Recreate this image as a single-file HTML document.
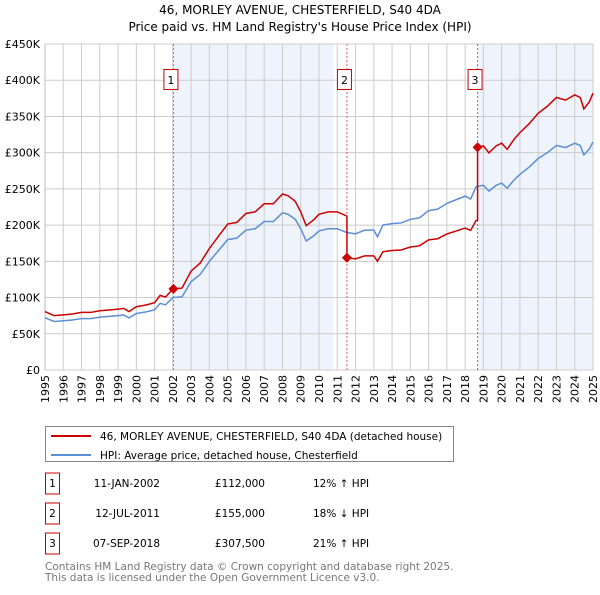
<!DOCTYPE html>
<html><head><meta charset="utf-8"><style>
body{margin:0;background:#fff;font-family:"Liberation Sans","DejaVu Sans",sans-serif;}
svg text{font-family:"DejaVu Sans","Liberation Sans",sans-serif;}
</style></head><body>
<svg id="c" width="600" height="590" xmlns="http://www.w3.org/2000/svg">
<text x="300" y="14" text-anchor="middle" font-size="12" fill="#000">46, MORLEY AVENUE, CHESTERFIELD, S40 4DA</text>
<text x="300" y="31" text-anchor="middle" font-size="12" fill="#000">Price paid vs. HM Land Registry's House Price Index (HPI)</text>
<g id="plot"></g>
<g>
<rect x="45.5" y="426.5" width="408" height="35" fill="#fff" stroke="#888"/>
<line x1="51" y1="436" x2="91" y2="436" stroke="#cc0000" stroke-width="2"/>
<text x="100" y="440" font-size="10.5">46, MORLEY AVENUE, CHESTERFIELD, S40 4DA (detached house)</text>
<line x1="51" y1="455" x2="91" y2="455" stroke="#5b8fd6" stroke-width="2"/>
<text x="100" y="459" font-size="10.5">HPI: Average price, detached house, Chesterfield</text>
</g>
<g id="table" font-size="10.5"></g>
<text x="45" y="570" font-size="10.5" fill="#777">Contains HM Land Registry data © Crown copyright and database right 2025.</text>
<text x="45" y="581" font-size="10.5" fill="#777">This data is licensed under the Open Government Licence v3.0.</text>
</svg>
<script>
const hpiYears=[1995,1995.5,1996,1996.5,1997,1997.5,1998,1998.5,1999,1999.3,1999.6,2000,2000.5,2001,2001.3,2001.6,2002,2002.5,2003,2003.5,2004,2004.5,2005,2005.5,2006,2006.5,2007,2007.5,2008,2008.3,2008.7,2009,2009.3,2009.7,2010,2010.5,2011,2011.5,2012,2012.5,2013,2013.2,2013.5,2014,2014.5,2015,2015.5,2016,2016.5,2017,2017.5,2018,2018.3,2018.6,2019,2019.3,2019.7,2020,2020.3,2020.7,2021,2021.5,2022,2022.5,2023,2023.5,2024,2024.3,2024.5,2024.8,2025];
const hpiValues=[72,67,68,69,71,71,73,74,75,76,72,78,80,83,92,90,100,101,122,132,150,165,180,182,193,195,205,205,217,215,208,195,178,185,192,195,195,190,188,193,193,184,200,202,203,208,210,220,222,230,235,240,236,253,255,247,255,258,251,263,270,280,292,300,310,307,313,310,297,305,315];
const saleYears=[2002.03,2011.53,2018.68];
const salePrices=[112000,155000,307500];
const saleDates=["11-JAN-2002","12-JUL-2011","07-SEP-2018"];
const salePriceLabels=["£112,000","£155,000","£307,500"];
const saleHpiDiff=["12% ↑ HPI","18% ↓ HPI","21% ↑ HPI"];
const yTicks=[0,50000,100000,150000,200000,250000,300000,350000,400000,450000];
const yTickLabels=["£0","£50K","£100K","£150K","£200K","£250K","£300K","£350K","£400K","£450K"];
const xTicks=[1995,1996,1997,1998,1999,2000,2001,2002,2003,2004,2005,2006,2007,2008,2009,2010,2011,2012,2013,2014,2015,2016,2017,2018,2019,2020,2021,2022,2023,2024,2025];

const X0=45,X1=593,Y0=370,Y1=44;
const x=y=>X0+(y-1995)/30*(X1-X0);
const yv=v=>Y0-v/450000*(Y0-Y1);
const NS="http://www.w3.org/2000/svg";
const plot=document.getElementById('plot');
function mk(tag,at,parent){const e=document.createElementNS(NS,tag);for(const k in at)e.setAttribute(k,at[k]);(parent||plot).appendChild(e);return e;}
function hpiAt(t){for(let i=0;i<hpiYears.length-1;i++){if(t<=hpiYears[i+1]){const f=(t-hpiYears[i])/(hpiYears[i+1]-hpiYears[i]);return (hpiValues[i]+f*(hpiValues[i+1]-hpiValues[i]))*1000;}}return hpiValues[hpiValues.length-1]*1000;}

const sh1=mk('rect',{x:x(saleYears[0]),y:Y1,width:x(2010.8)-x(saleYears[0]),height:Y0-Y1,fill:'#eef3fc'});


const sh3=mk('rect',{x:x(saleYears[2]),y:Y1,width:X1-x(saleYears[2]),height:Y0-Y1,fill:'#eef3fc'});


xTicks.forEach(t=>{const l=mk('line',{x1:x(t),x2:x(t),y1:Y1,y2:Y0,stroke:'#ccc','stroke-width':1});


const tx=mk('text',{x:0,y:0,'font-size':11,'text-anchor':'end',transform:`translate(${x(t)+4},${Y0+5}) rotate(-90)`});tx.textContent=t;

});
yTicks.forEach((v,i)=>{const l=mk('line',{x1:X0,x2:X1,y1:yv(v),y2:yv(v),stroke:'#ccc','stroke-width':1});


const tx=mk('text',{x:X0-5,y:yv(v)+4,'font-size':11,'text-anchor':'end'});tx.textContent=yTickLabels[i];

});
mk('line',{x1:X0,x2:X0,y1:Y1,y2:Y0,stroke:'#bbb'});
saleYears.forEach((s,i)=>{const l=mk('line',{x1:x(s),x2:x(s),y1:Y1,y2:Y0,stroke:'#e55','stroke-width':1,'stroke-dasharray':'2,2'});


const g=mk('g',{});


mk('rect',{x:x(s)-9.5,y:69.5,width:14,height:20,fill:'#fff',stroke:'#cc0000'},g);
const t=mk('text',{x:x(s)-2.5,y:84,'font-size':11,'text-anchor':'middle'},g);t.textContent=i+1;});
const hp=mk('polyline',{points:hpiYears.map((t,i)=>x(t)+','+yv(hpiValues[i]*1000)).join(' '),fill:'none',stroke:'#5b8fd6','stroke-width':1.5});


const pts=[];
for(let i=0;i<hpiYears.length;i++){const t=hpiYears[i];let k=0;for(let j=0;j<saleYears.length;j++)if(t>=saleYears[j])k=j;
if(i>0){for(let j=0;j<saleYears.length;j++){if(hpiYears[i-1]<saleYears[j]&&t>=saleYears[j]){const kk=Math.max(0,j-1);pts.push([saleYears[j],salePrices[kk]*hpiAt(saleYears[j])/hpiAt(saleYears[kk])]);pts.push([saleYears[j],salePrices[j]]);}}}
pts.push([t,salePrices[k]*hpiValues[i]*1000/hpiAt(saleYears[k])]);}
const pl=mk('polyline',{points:pts.map(p=>x(p[0])+','+yv(p[1])).join(' '),fill:'none',stroke:'#cc0000','stroke-width':1.5});


saleYears.forEach((s,i)=>{const cx=x(s),cy=yv(salePrices[i]);const d=mk('polygon',{points:`${cx},${cy-5} ${cx+5},${cy} ${cx},${cy+5} ${cx-5},${cy}`,fill:'#cc0000'});

});
const tb=document.getElementById('table');
saleYears.forEach((s,i)=>{const y0=476+i*30;
const r=mk('rect',{x:45.5,y:y0-3,width:14,height:21,fill:'#fff',stroke:'#cc0000'},tb);


const vals=[[52.5,i+1,'middle'],[160,saleDates[i],'end'],[265,salePriceLabels[i],'end'],[313,saleHpiDiff[i],'start']];
vals.forEach(v=>{const t=mk('text',{x:v[0],y:y0+11,'text-anchor':v[2]},tb);t.textContent=v[1];

});});
</script>
</body></html>
